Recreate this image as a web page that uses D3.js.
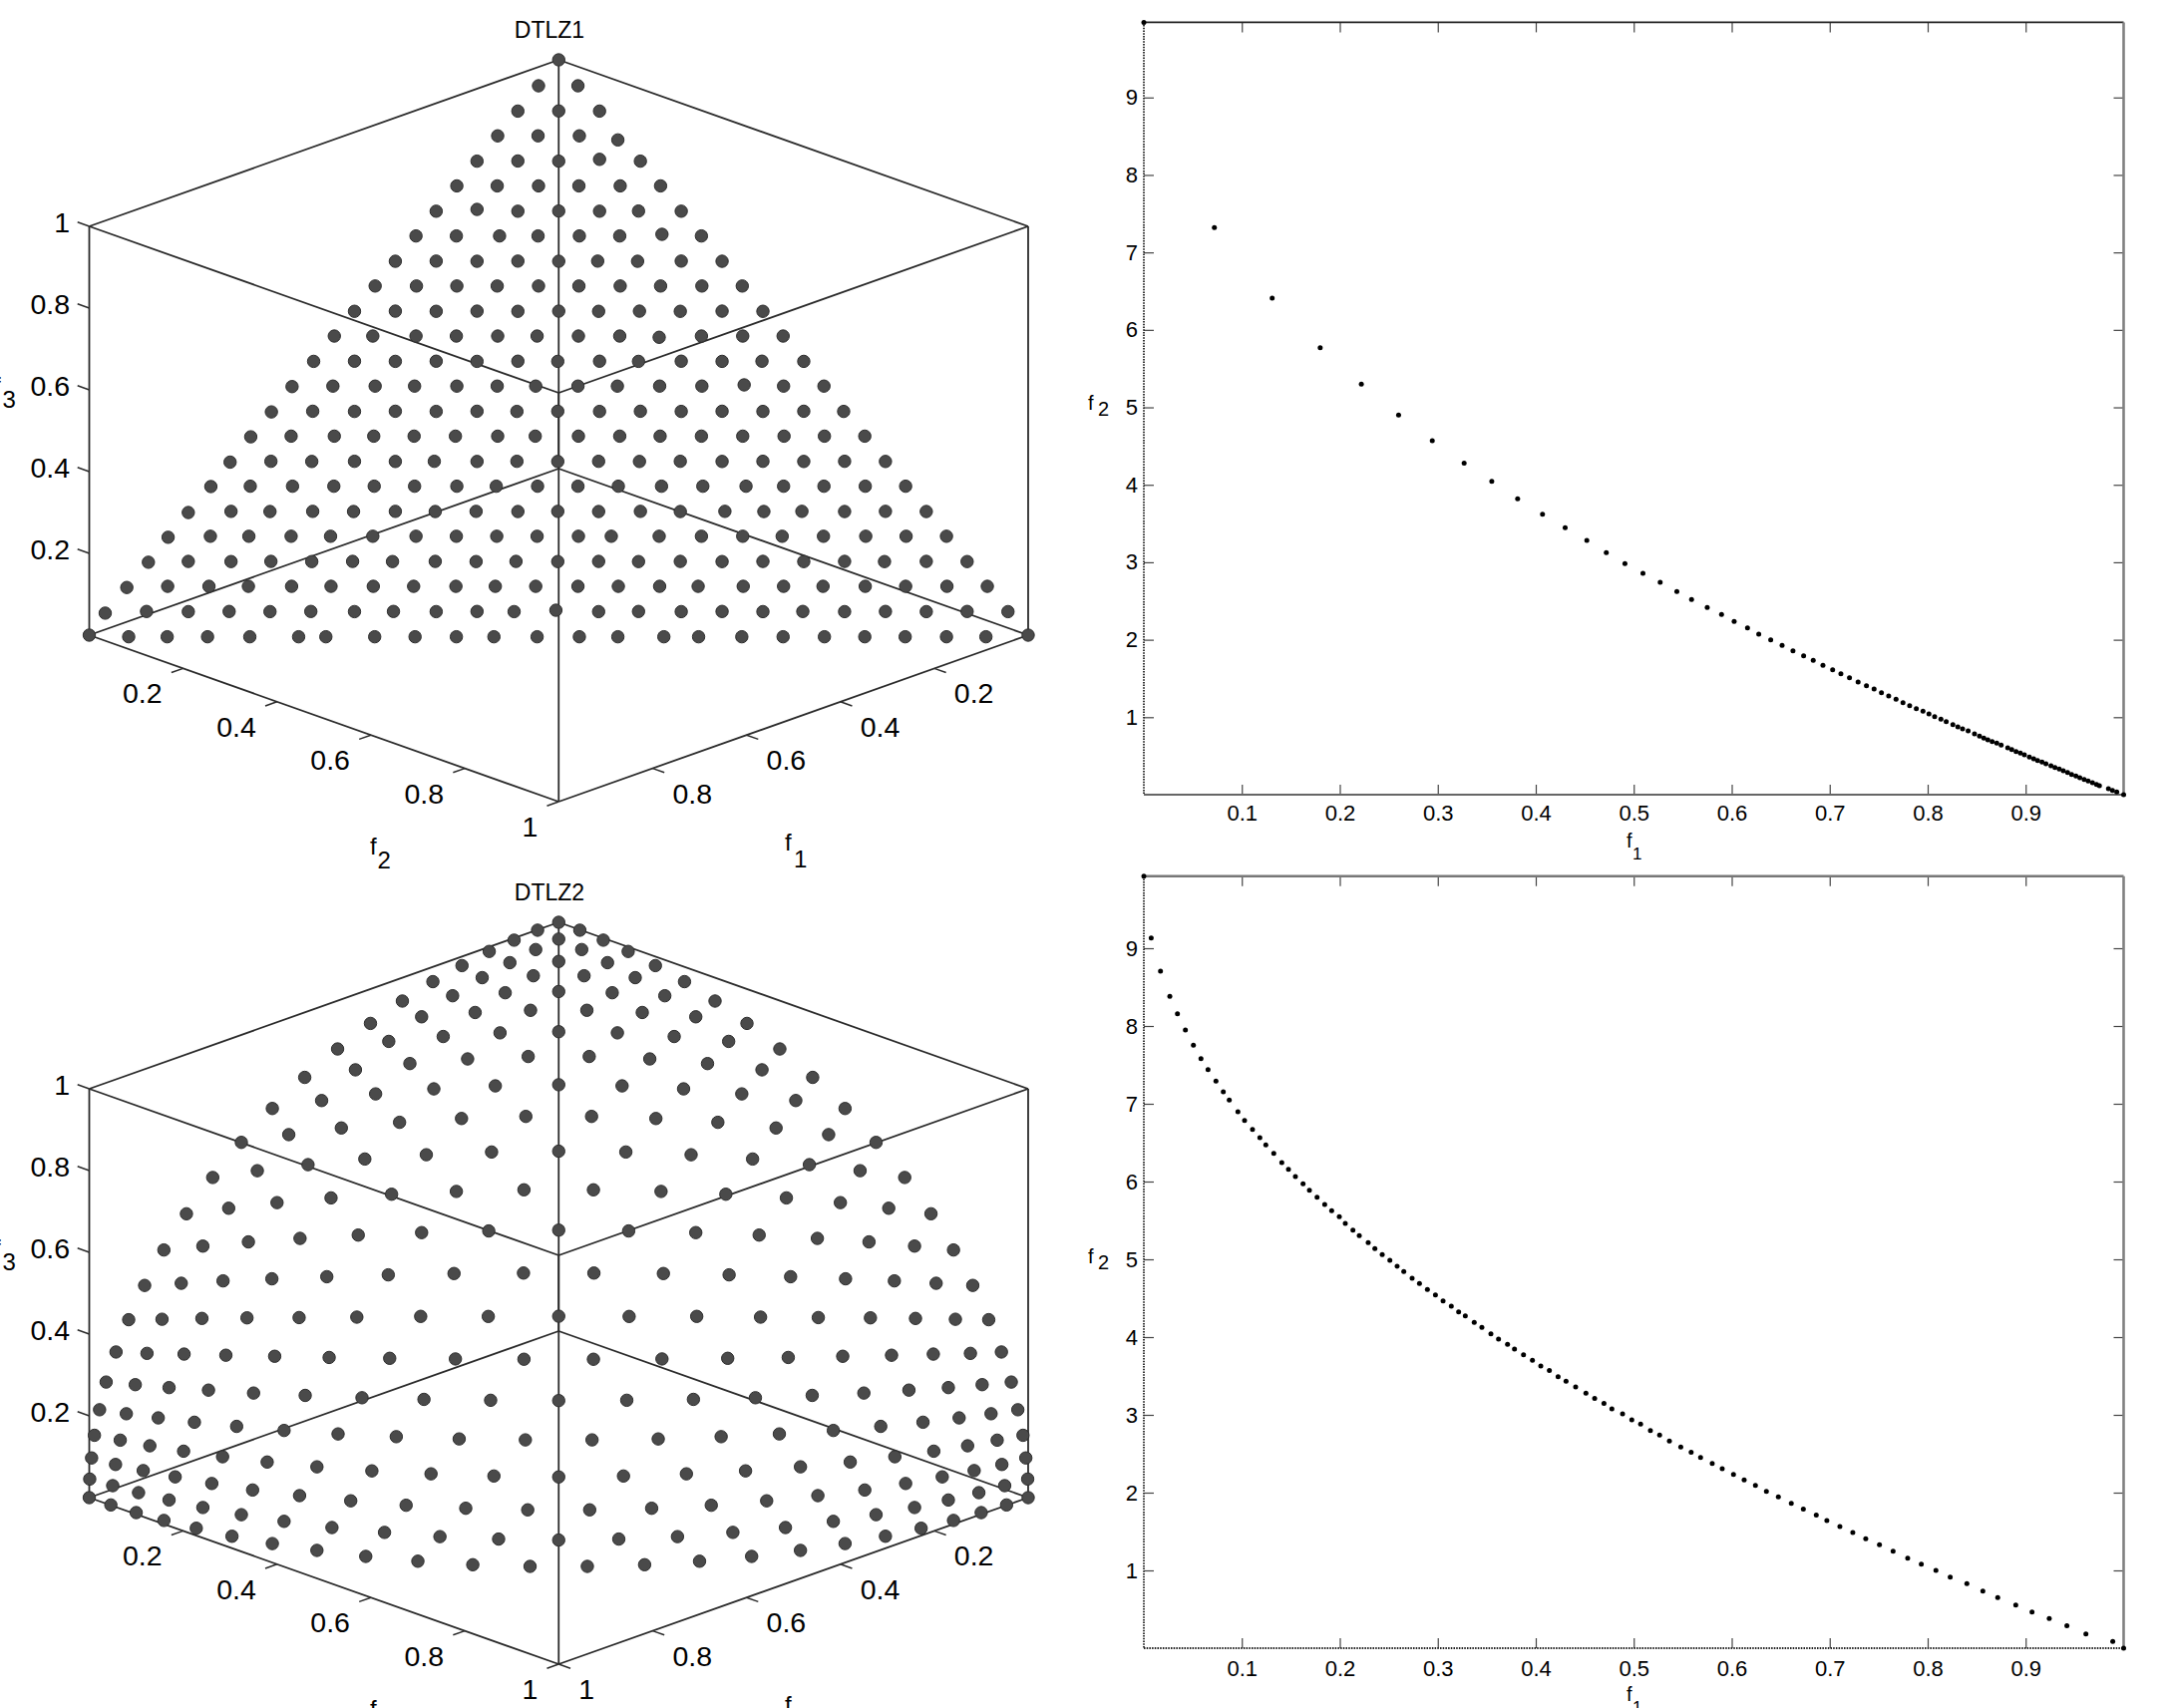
<!DOCTYPE html>
<html><head><meta charset="utf-8"><title>DTLZ1 and DTLZ2</title>
<script src="https://cdn.jsdelivr.net/npm/d3@7/dist/d3.min.js"></script>
<style>html,body{margin:0;padding:0;background:#fff}svg{display:block}text{font-family:"Liberation Sans",Arial,sans-serif;fill:#000}</style>
</head><body><svg id="c" width="2179" height="1713"></svg>
<script>
// DTLZ1, three objectives
const dtlz1F1=[0,
.043,.001,
.087,.043,0,
.130,.087,.043,.002,
.174,.130,.087,.043,0,
.217,.174,.130,.087,.043,0,
.261,.217,.174,.130,.087,.045,0,
.304,.261,.215,.174,.130,.087,.042,0,
.348,.304,.261,.217,.174,.132,.090,.043,0,
.391,.347,.304,.261,.217,.174,.130,.087,.043,0,
.435,.391,.348,.304,.261,.217,.175,.131,.088,.043,0,
.478,.437,.391,.348,.304,.262,.218,.174,.132,.087,.043,0,
.522,.478,.435,.391,.348,.304,.262,.217,.176,.130,.087,.044,0,
.568,.523,.478,.436,.391,.348,.307,.262,.220,.175,.130,.085,.043,0,
.612,.566,.522,.478,.435,.391,.349,.305,.261,.217,.174,.130,.087,.043,.001,
.656,.611,.565,.523,.480,.436,.391,.351,.305,.261,.218,.174,.130,.086,.043,0,
.700,.654,.611,.565,.522,.480,.435,.392,.349,.305,.262,.218,.174,.130,.087,.043,0,
.741,.698,.653,.609,.566,.523,.478,.436,.392,.349,.306,.260,.216,.170,.130,.087,.043,0,
.789,.740,.699,.653,.610,.565,.523,.479,.435,.392,.349,.304,.262,.214,.173,.132,.087,.043,0,
.832,.784,.743,.698,.656,.611,.565,.522,.479,.436,.392,.357,.306,.261,.217,.175,.131,.086,.043,0,
.874,.829,.784,.741,.698,.654,.612,.566,.523,.480,.436,.392,.350,.305,.261,.217,.174,.130,.088,.043,0,
.920,.873,.829,.787,.741,.699,.654,.611,.566,.524,.481,.436,.393,.349,.308,.260,.217,.175,.130,.087,.043,0,
.966,.917,.873,.829,.786,.742,.696,.654,.609,.565,.526,.481,.436,.393,.348,.304,.261,.218,.174,.130,.087,.043,0,
1,.958,.917,.874,.829,.777,.748,.696,.653,.609,.569,.523,.478,.437,.388,.351,.305,.261,.217,.174,.131,.087,.045,0];
const dtlz1F2=[0,
0,.042,
0,.043,.087,
0,.043,.087,.128,
0,.043,.087,.130,.174,
0,.043,.087,.130,.174,.217,
0,.043,.087,.130,.174,.215,.261,
0,.043,.089,.130,.174,.217,.262,.304,
0,.043,.087,.130,.174,.215,.258,.304,.348,
0,.044,.087,.130,.174,.217,.261,.304,.348,.391,
0,.043,.087,.130,.174,.217,.260,.303,.347,.391,.435,
0,.041,.087,.130,.174,.216,.260,.304,.346,.391,.435,.478,
0,.043,.087,.130,.174,.217,.260,.304,.346,.391,.435,.477,.522,
0,.042,.087,.129,.174,.217,.258,.303,.345,.390,.435,.480,.522,.565,
0,.042,.087,.130,.174,.217,.260,.303,.348,.391,.435,.478,.522,.565,.608,
0,.041,.087,.129,.172,.216,.261,.301,.347,.391,.434,.478,.522,.566,.609,.652,
0,.041,.085,.130,.174,.215,.261,.303,.347,.390,.434,.477,.522,.565,.609,.652,.696,
0,.041,.086,.130,.173,.216,.261,.303,.347,.390,.433,.479,.523,.569,.609,.652,.696,.739,
0,.042,.084,.129,.173,.217,.260,.303,.348,.390,.434,.478,.521,.568,.610,.650,.696,.739,.783,
0,.042,.083,.128,.170,.215,.261,.304,.347,.390,.434,.469,.520,.565,.609,.651,.695,.740,.783,.826,
0,.040,.086,.128,.172,.215,.258,.303,.347,.389,.434,.477,.520,.564,.609,.652,.696,.739,.782,.826,.870,
0,.040,.084,.126,.172,.214,.259,.302,.347,.389,.432,.477,.520,.564,.605,.653,.696,.738,.783,.826,.870,.913,
0,.039,.084,.127,.171,.214,.261,.302,.348,.391,.431,.475,.521,.563,.609,.652,.696,.738,.783,.826,.870,.913,.957,
0,.042,.083,.126,.171,.223,.252,.304,.347,.391,.431,.477,.522,.563,.612,.649,.695,.739,.783,.826,.869,.913,.955,1];
const dtlz1F3=[1,
.954,.954,
.910,.910,.910,
.867,.867,.867,.857,
.823,.823,.823,.827,.823,
.780,.780,.780,.780,.780,.780,
.736,.740,.736,.736,.736,.736,.736,
.693,.693,.693,.693,.693,.693,.697,.693,
.649,.649,.649,.649,.649,.649,.649,.649,.649,
.606,.606,.606,.606,.606,.606,.606,.606,.606,.606,
.562,.562,.562,.562,.562,.562,.562,.562,.562,.562,.562,
.519,.519,.519,.519,.519,.519,.519,.519,.516,.519,.519,.519,
.475,.475,.475,.475,.475,.475,.475,.475,.475,.475,.475,.475,.475,
.432,.432,.432,.432,.432,.432,.432,.432,.432,.432,.432,.435,.432,.432,
.388,.388,.388,.388,.388,.388,.388,.388,.388,.388,.388,.388,.388,.388,.388,
.345,.345,.345,.345,.345,.345,.345,.345,.345,.345,.345,.345,.345,.345,.345,.345,
.301,.301,.301,.301,.301,.301,.301,.301,.301,.301,.301,.301,.301,.301,.301,.301,.301,
.258,.258,.258,.258,.258,.258,.258,.258,.258,.258,.258,.258,.258,.258,.258,.258,.258,.258,
.214,.214,.214,.214,.214,.214,.214,.214,.214,.214,.214,.214,.214,.214,.214,.214,.214,.214,.214,
.171,.171,.171,.171,.171,.171,.171,.171,.171,.171,.171,.171,.171,.171,.171,.171,.171,.171,.171,.171,
.127,.127,.127,.127,.127,.127,.127,.127,.127,.127,.127,.127,.127,.127,.127,.127,.127,.127,.127,.127,.127,
.084,.084,.084,.084,.084,.084,.084,.084,.084,.084,.084,.084,.084,.084,.084,.084,.084,.084,.084,.084,.084,.084,
.040,.040,.040,.040,.040,.040,.040,.040,.040,.040,.040,.043,.040,.040,.040,.040,.040,.040,.040,.040,.040,.040,.040,
0,-.004,-.004,-.004,-.004,-.004,-.004,-.004,-.004,-.004,-.004,-.004,-.004,-.004,-.004,-.004,-.004,-.004,-.004,-.004,-.004,-.004,-.004,0];

// DTLZ2, three objectives
const dtlz2F1=[0,
.045,0,
.095,.048,0,
.148,.099,.050,0,
.206,.156,.104,.052,0,
.268,.217,.163,.109,.054,0,
.333,.282,.228,.171,.114,.056,0,
.401,.350,.296,.239,.179,.118,.058,0,
.471,.422,.369,.311,.250,.186,.123,.060,0,
.541,.495,.444,.387,.325,.260,.193,.127,.062,0,
.610,.568,.520,.465,.404,.338,.269,.199,.130,.063,0,
.676,.639,.595,.543,.484,.419,.349,.277,.204,.132,.064,0,
.737,.706,.667,.619,.564,.501,.432,.358,.282,.206,.133,.064,0,
.793,.767,.733,.692,.641,.582,.515,.441,.364,.285,.207,.133,.064,0,
.841,.821,.793,.757,.712,.658,.595,.523,.446,.366,.285,.206,.132,.063,0,
.882,.866,.845,.815,.776,.727,.669,.601,.526,.446,.364,.282,.204,.130,.062,0,
.916,.905,.887,.863,.830,.788,.735,.673,.601,.523,.441,.358,.277,.199,.127,.060,0,
.943,.935,.921,.902,.874,.838,.792,.735,.669,.595,.515,.432,.349,.269,.193,.123,.058,0,
.964,.958,.948,.932,.910,.878,.838,.788,.727,.658,.582,.501,.419,.338,.260,.186,.118,.056,0,
.978,.975,.967,.955,.936,.910,.874,.830,.776,.712,.641,.564,.484,.404,.325,.250,.179,.114,.054,0,
.989,.986,.980,.970,.955,.932,.902,.863,.815,.757,.692,.619,.543,.465,.387,.311,.239,.171,.109,.052,0,
.995,.994,.989,.980,.967,.948,.921,.887,.845,.793,.733,.667,.595,.520,.444,.369,.296,.228,.163,.104,.050,0,
.999,.998,.994,.986,.975,.958,.935,.905,.866,.821,.767,.706,.639,.568,.495,.422,.350,.282,.217,.156,.099,.048,0,
1,.999,.995,.989,.978,.964,.943,.916,.882,.841,.793,.737,.676,.610,.541,.471,.401,.333,.268,.206,.148,.095,.045,0];
const dtlz2F2=[0,
0,.045,
0,.048,.095,
0,.050,.099,.148,
0,.052,.104,.156,.206,
0,.054,.109,.163,.217,.268,
0,.056,.114,.171,.228,.282,.333,
0,.058,.118,.179,.239,.296,.350,.401,
0,.060,.123,.186,.250,.311,.369,.422,.471,
0,.062,.127,.193,.260,.325,.387,.444,.495,.541,
0,.063,.130,.199,.269,.338,.404,.465,.520,.568,.610,
0,.064,.132,.204,.277,.349,.419,.484,.543,.595,.639,.676,
0,.064,.133,.206,.282,.358,.432,.501,.564,.619,.667,.706,.737,
0,.064,.133,.207,.285,.364,.441,.515,.582,.641,.692,.733,.767,.793,
0,.063,.132,.206,.285,.366,.446,.523,.595,.658,.712,.757,.793,.821,.841,
0,.062,.130,.204,.282,.364,.446,.526,.601,.669,.727,.776,.815,.845,.866,.882,
0,.060,.127,.199,.277,.358,.441,.523,.601,.673,.735,.788,.830,.863,.887,.905,.916,
0,.058,.123,.193,.269,.349,.432,.515,.595,.669,.735,.792,.838,.874,.902,.921,.935,.943,
0,.056,.118,.186,.260,.338,.419,.501,.582,.658,.727,.788,.838,.878,.910,.932,.948,.958,.964,
0,.054,.114,.179,.250,.325,.404,.484,.564,.641,.712,.776,.830,.874,.910,.936,.955,.967,.975,.978,
0,.052,.109,.171,.239,.311,.387,.465,.543,.619,.692,.757,.815,.863,.902,.932,.955,.970,.980,.986,.989,
0,.050,.104,.163,.228,.296,.369,.444,.520,.595,.667,.733,.793,.845,.887,.921,.948,.967,.980,.989,.994,.995,
0,.048,.099,.156,.217,.282,.350,.422,.495,.568,.639,.706,.767,.821,.866,.905,.935,.958,.975,.986,.994,.998,.999,
0,.045,.095,.148,.206,.268,.333,.401,.471,.541,.610,.676,.737,.793,.841,.882,.916,.943,.964,.978,.989,.995,.999,1];
const dtlz2F3=[1,
.999,.999,
.995,.998,.995,
.989,.994,.994,.989,
.978,.986,.989,.986,.978,
.964,.975,.980,.980,.975,.964,
.943,.958,.967,.970,.967,.958,.943,
.916,.935,.948,.955,.955,.948,.935,.916,
.882,.905,.921,.932,.936,.932,.921,.905,.882,
.841,.866,.887,.902,.910,.910,.902,.887,.866,.841,
.793,.821,.845,.863,.874,.878,.874,.863,.845,.821,.793,
.737,.767,.793,.815,.830,.838,.838,.830,.815,.793,.767,.737,
.676,.706,.733,.757,.776,.788,.792,.788,.776,.757,.733,.706,.676,
.610,.639,.667,.692,.712,.727,.735,.735,.727,.712,.692,.667,.639,.610,
.541,.568,.595,.619,.641,.658,.669,.673,.669,.658,.641,.619,.595,.568,.541,
.471,.495,.520,.543,.564,.582,.595,.601,.601,.595,.582,.564,.543,.520,.495,.471,
.401,.422,.444,.465,.484,.501,.515,.523,.526,.523,.515,.501,.484,.465,.444,.422,.401,
.333,.350,.369,.387,.404,.419,.432,.441,.446,.446,.441,.432,.419,.404,.387,.369,.350,.333,
.268,.282,.296,.311,.325,.338,.349,.358,.364,.366,.364,.358,.349,.338,.325,.311,.296,.282,.268,
.206,.217,.228,.239,.250,.260,.269,.277,.282,.285,.285,.282,.277,.269,.260,.250,.239,.228,.217,.206,
.148,.156,.163,.171,.179,.186,.193,.199,.204,.206,.207,.206,.204,.199,.193,.186,.179,.171,.163,.156,.148,
.095,.099,.104,.109,.114,.118,.123,.127,.130,.132,.133,.133,.132,.130,.127,.123,.118,.114,.109,.104,.099,.095,
.045,.048,.050,.052,.054,.056,.058,.060,.062,.063,.064,.064,.064,.063,.062,.060,.058,.056,.054,.052,.050,.048,.045,
0,0,0,0,0,0,0,0,0,0,0,0,0,0,0,0,0,0,0,0,0,0,0,0];

// Two-objective fronts
const front1F1=[0,.072,.131,.18,.222,.26,.2944,.3269,.3551,.3815,.4069,.43,.4521,.472,.491,.5094,.527,.544,.559,
.575,.5896,.6025,.6161,.6276,.6398,.6514,.6625,.6734,.6832,.6931,.703,.7114,.7202,.729,.7375,.7453,.7528,.7602,.7677,.7748,.7816,.7884,.7952,.8013,.8071,.8135,.8189,.8257,.8308,.8356,.8413,.8478,.8529,.8573,.8614,.8658,.8705,.875,.8817,.8858,.8902,.8946,.8987,.9038,.9082,.9122,.9167,.9207,.9258,.9299,.9343,.9384,.9428,.9469,.9513,.9553,.9597,.9638,.9682,.9723,.9753,.9845,.9886,.993,1];
const front1F2=[9.97,7.32,6.41,5.77,5.30,4.90,4.569,4.28,4.045,3.818,3.62,3.445,3.282,3.123,2.982,2.857,2.741,2.621,2.518,
2.415,2.325,2.235,2.153,2.072,1.999,1.926,1.857,1.793,1.733,1.669,1.613,1.561,1.51,1.454,1.407,1.364,1.317,1.274,1.231,1.188,1.15,1.111,1.077,1.042,1.008,.974,.944,.905,.875,.849,.823,.785,.755,.729,.708,.686,.665,.639,.605,.583,.557,.536,.515,.485,.463,.442,.42,.399,.373,.352,.33,.309,.287,.261,.24,.219,.197,.176,.154,.133,.116,.077,.056,.034,0];
const front2F1=[0,.0075,.017,.0265,.0343,.0424,.0506,.0583,.0655,.0736,.0811,.0872,.096,.1028,.1109,.1184,.1245,.1326,.1408,
.1476,.1547,.1625,.169,.1768,.1846,.1917,.1995,.2056,.2134,.2199,.229,.2358,.2433,.2511,.2585,.2653,.2738,.2813,.2894,.2976,.3054,.3138,.3213,.3281,.3372,.345,.3542,.362,.3712,.3783,.3875,.3966,.4051,.4139,.4228,.4309,.4407,.4512,.4601,.4696,.4777,.4886,
.498,.507,.517,.5264,.5364,.548,.5586,
.5682,.5801,.5903,.6018,.6127,.6242,.6354,.6476,.6608,.6731,.6863,.6971,.7104,.7236,.7368,.7508,.7647,.7796,.7935,.8084,.823,.84,.8563,.8715,.8899,.9065,.9241,.9421,.9615,.9889,1];
const front2F2=[9.927,9.132,8.705,8.38,8.158,7.949,7.752,7.581,7.44,7.291,7.154,7.047,6.897,6.786,6.671,6.564,6.47,6.363,6.244,
6.158,6.064,5.97,5.889,5.799,5.705,5.624,5.547,5.462,5.376,5.304,5.214,5.137,5.06,4.987,4.911,4.842,4.757,4.688,4.611,4.543,4.466,4.398,4.325,4.274,4.188,4.124,4.043,3.975,3.906,3.846,3.774,3.701,3.628,3.569,3.492,3.432,3.359,3.278,3.21,3.146,3.077,3.013,
2.936,2.88,2.797,2.741,2.664,2.588,2.518,
2.453,2.376,2.308,2.235,2.163,2.094,2.017,1.945,1.863,1.787,1.71,1.641,1.564,1.487,1.406,1.329,1.248,1.158,1.081,1,.915,.829,.735,.65,.556,.466,.381,.287,.184,.086,0];

// Tick labels
const cubeTicks=[.2,.4,.6,.8,1];
const cubeTickLabels=["0.2","0.4","0.6","0.8","1"];
const f1Ticks=[.1,.2,.3,.4,.5,.6,.7,.8,.9];
const f2Ticks=[1,2,3,4,5,6,7,8,9];
const cubeCorners=[[0,0,1],[1,0,1],[0,1,1],[1,1,1],[0,0,0],[1,0,0],[0,1,0],[1,1,0]];
const cubeEdges=[[0,1],[0,2],[1,3],[2,3],[4,5],[4,6],[5,7],[6,7],[0,4],[1,5],[2,6],[3,7]];

const svg=d3.select("#c");
const lineCol="#2b2b2b";

function cube(o){
  const diffX=d3.scaleLinear().domain([-1,1]).range([89.5,1031]);   // f2-f1
  const sumY=d3.scaleLinear().domain([0,2]).range([o.floor,o.floor+334]); // f1+f2
  const liftY=d3.scaleLinear().domain([0,1]).range([0,-410]);
  const P=(a,b,c)=>[diffX(b-a),sumY(a+b)+liftY(c)];
  const g=svg.append("g");
  const path=d3.line();
  g.selectAll("path.edge").data(cubeEdges).join("path").attr("class","edge")
   .attr("d",e=>path([P(...cubeCorners[e[0]]),P(...cubeCorners[e[1]])]))
   .attr("fill","none").attr("stroke",lineCol).attr("stroke-width",1.8);
  const tick=(d,a,b)=>g.append("path").attr("d",path([a,b])).attr("stroke",lineCol).attr("stroke-width",1.5).attr("fill","none");
  const label=(x,y,s,anchor,size=28.5)=>g.append("text").attr("x",x).attr("y",y).attr("text-anchor",anchor).attr("font-size",size).text(s);
  cubeTicks.forEach((t,i)=>{
    tick(t,P(1,0,t),P(1,-.025,t));
    const zp=P(1,0,t);
    label(70,zp[1]+6,cubeTickLabels[i],"end");
    tick(t,P(1,t,0),P(1.025,t,0));
    const yp=P(1,t,0);
    label(yp[0]-21,yp[1]+35,cubeTickLabels[i],"end");
    if(t<1||o.rightOne){
      tick(t,P(t,1,0),P(t,1.025,0));
      const xp=P(t,1,0);
      label(xp[0]+20,xp[1]+35,cubeTickLabels[i],"start");
    }
  });
  const sub=(x,y,x2,y2,a,b,size=24)=>{label(x,y,a,"start",size);label(x2,y2,b,"start",size);};
  sub(371,o.floor+386.5,378.5,o.floor+400.5,"f","2");
  sub(787,o.floor+383,796,o.floor+400,"f","1");
  sub(-6,o.floor-75,2.5,o.floor-61,"f","3");
  label(o.titleX,o.titleY,o.title,"middle",23);
  g.selectAll("circle").data(o.f1).join("circle")
   .attr("cx",(d,i)=>P(o.f1[i],o.f2[i],o.f3[i])[0])
   .attr("cy",(d,i)=>P(o.f1[i],o.f2[i],o.f3[i])[1])
   .attr("r",6.2).attr("fill","#4a4a4a").attr("stroke","#2e2e2e").attr("stroke-width",1);
}
cube({floor:470,title:"DTLZ1",titleX:551,titleY:38,f1:dtlz1F1,f2:dtlz1F2,f3:dtlz1F3,rightOne:false});
cube({floor:1335,title:"DTLZ2",titleX:551,titleY:902.5,f1:dtlz2F1,f2:dtlz2F2,f3:dtlz2F3,rightOne:true});

function front(o){
  const x=d3.scaleLinear().domain([0,1]).range([1147,2129.5]);
  const y=d3.scaleLinear().domain([0,o.yMax]).range([o.bottom,o.top]);
  const g=svg.append("g");
  const bx=d3.axisBottom(x).tickValues(f1Ticks).tickFormat(d3.format(".1f")).tickSize(-10).tickPadding(o.pad);
  const tx=d3.axisTop(x).tickValues(f1Ticks).tickFormat("").tickSize(-10);
  const ly=d3.axisLeft(y).tickValues(f2Ticks).tickFormat(d3.format("d")).tickSize(-10).tickPadding(6);
  const ry=d3.axisRight(y).tickValues(f2Ticks).tickFormat("").tickSize(-10);
  const place=(ax,tr)=>{const a=g.append("g").attr("transform",tr).call(ax);
    a.select(".domain").remove();
    a.selectAll("line").attr("stroke","#444").attr("stroke-width",1.2);
    a.selectAll("text").attr("font-size",22).attr("font-family",'"Liberation Sans",Arial,sans-serif').attr("fill","#000");};
  place(bx,`translate(0,${o.bottom})`);place(tx,`translate(0,${o.top})`);place(ly,"translate(1147,0)");place(ry,"translate(2129.5,0)");
  const edge=(a,b,c,w,dash)=>g.append("path").attr("d",d3.line()([a,b])).attr("stroke",c).attr("stroke-width",w).attr("stroke-dasharray",dash||null).attr("fill","none");
  edge([1147,o.top],[2129.5,o.top],o.topCol,o.topW);
  edge([2129.5,o.top],[2129.5,o.bottom],"#808080",2.6);
  edge([1147,o.bottom],[2129.5,o.bottom],o.botCol,1.8,o.botDash);
  edge([1147,o.top],[1147,o.bottom],"#222",1.8,"1.5 1.2");
  g.selectAll("circle").data(o.f1).join("circle")
   .attr("cx",d=>x(d)).attr("cy",(d,i)=>y(o.f2[i]))
   .attr("r",2.5).attr("fill","#000");
  const t=(px,py,s,size)=>g.append("text").attr("x",px).attr("y",py).attr("font-size",size).text(s);
  t(1631,o.bottom+53,"f",20);t(1637,o.bottom+65,"1",17);
  t(1091,o.bottom-386,"f",20);t(1101,o.bottom-380,"2",20);
}
front({top:22.4,bottom:797,yMax:9.97,pad:10.5,f1:front1F1,f2:front1F2,topCol:"#222",topW:1.6,botCol:"#666"});
front({top:878.7,bottom:1653,yMax:9.927,pad:12,f1:front2F1,f2:front2F2,topCol:"#777",topW:2.4,botCol:"#222",botDash:"1.5 1.2"});
</script></body></html>
